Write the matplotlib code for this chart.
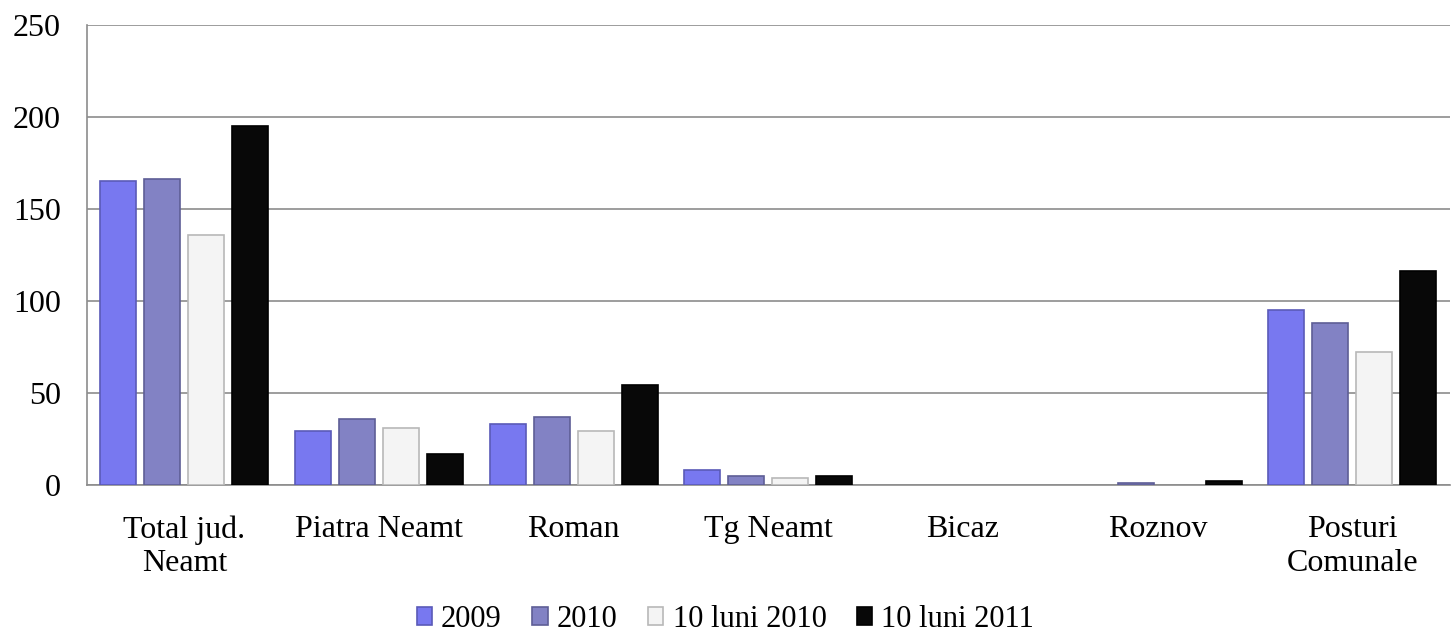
import matplotlib.pyplot as plt
import numpy as np

categories = ["Total jud.\nNeamt", "Piatra Neamt", "Roman", "Tg Neamt", "Bicaz", "Roznov", "Posturi\nComunale"]
series_names = ["2009", "2010", "10 luni 2010", "10 luni 2011"]
v2009 = [165, 29, 33, 8, 0, 0, 95]
v2010 = [166, 36, 37, 5, 0, 1, 88]
v10l2010 = [136, 31, 29, 4, 0, 0, 72]
v10l2011 = [195, 17, 54, 5, 0, 2, 116]

colors = ["#7878f0", "#8282c4", "#f4f4f4", "#080808"]
edges = ["#5a5ab8", "#5e5e96", "#b8b8b8", "#000000"]

plt.rcParams['font.family'] = ['Liberation Serif', 'DejaVu Serif']

fig = plt.figure(figsize=(14.51, 6.33), dpi=100)
ax = fig.add_axes([0.06, 0.234, 0.939, 0.727])

x = np.arange(len(categories))
step = 0.226
width = 0.185
data = [v2009, v2010, v10l2010, v10l2011]
for i, vals in enumerate(data):
    lw = [1.2 if v > 0 else 0 for v in vals]
    ax.bar(x + (i - 1.5) * step, vals, width, color=colors[i], edgecolor=edges[i],
           linewidth=lw, label=series_names[i], zorder=3)

ax.set_xlim(-0.5, 6.5)
ax.set_ylim(0, 250)
ax.set_yticks(range(0, 251, 50))
ax.yaxis.grid(True, color="#8c8c8c", linewidth=1.2, zorder=0)
ax.set_xticks(x)
ax.set_xticklabels(categories, fontsize=23, linespacing=1.2)
ax.tick_params(axis='y', labelsize=23, length=0, pad=19)
ax.tick_params(axis='x', length=0, pad=22)
for s in ['top', 'right']:
    ax.spines[s].set_visible(False)
for s in ['left', 'bottom']:
    ax.spines[s].set_color("#8c8c8c")
    ax.spines[s].set_linewidth(1.2)

leg = fig.legend(loc='lower center', bbox_to_anchor=(0.5, -0.045), ncol=4, frameon=False,
                 fontsize=22, handlelength=0.5, handleheight=0.5, handletextpad=0.3,
                 columnspacing=1.0)

fig.savefig("out.png", dpi=100)
